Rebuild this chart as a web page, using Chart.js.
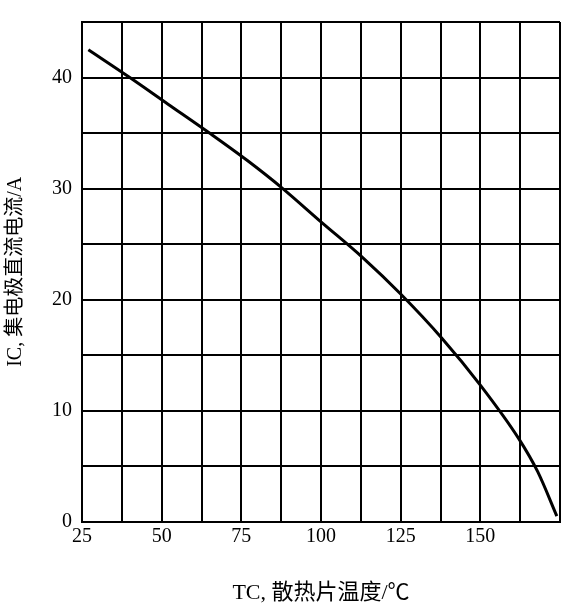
<!DOCTYPE html>
<html>
<head>
<meta charset="utf-8">
<script src="https://cdn.jsdelivr.net/npm/chart.js@4/dist/chart.umd.min.js"></script>
<style>
  html, body { margin: 0; padding: 0; background: #fff; }
  #wrap { width: 576px; height: 614px; }
</style>
</head>
<body>
<div id="wrap"><canvas id="c" width="576" height="614"></canvas></div>
<script>
// Tc (°C) vs Ic (A)
const tempC = [27, 40, 52, 65, 77, 88, 100, 113, 125, 138, 150, 162, 168, 174];
const currentA = [42.5, 40, 37.6, 35, 32.5, 30, 27, 23.8, 20.5, 16.5, 12.3, 7.5, 4.5, 0.5];
const xLabels = [25, 50, 75, 100, 125, 150];
const yLabels = [0, 10, 20, 30, 40];

const serif = "'Liberation Serif', 'Noto Sans CJK SC', serif";

new Chart(document.getElementById('c'), {
    type: 'line',
    data: {
        datasets: [{
            data: tempC.map((t, i) => ({ x: t, y: currentA[i] })),
            borderColor: '#000',
            borderWidth: 3,
            pointRadius: 0,
            tension: 0.4,
            cubicInterpolationMode: 'monotone'
        }]
    },
    options: {
        responsive: false,
        animation: false,
        layout: { padding: { top: 18, right: 16, left: 0, bottom: 4 } },
        plugins: { legend: { display: false }, tooltip: { enabled: false } },
        scales: {
            x: {
                type: 'linear',
                min: 25,
                max: 175,
                ticks: {
                    stepSize: 12.5,
                    color: '#000',
                    font: { family: serif, size: 20 },
                    maxRotation: 0,
                    autoSkip: false,
                    callback: v => xLabels.includes(v) ? v : ''
                },
                grid: { color: '#000', lineWidth: 2, drawTicks: false },
                border: { color: '#000', width: 2 },
                title: {
                    display: true,
                    text: 'TC, 散热片温度/℃',
                    color: '#000',
                    font: { family: serif, size: 22 },
                    padding: { top: 28 }
                }
            },
            y: {
                min: 0,
                max: 45,
                ticks: {
                    stepSize: 5,
                    color: '#000',
                    font: { family: serif, size: 20 },
                    padding: 10,
                    autoSkip: false,
                    callback: v => yLabels.includes(v) ? v : ''
                },
                grid: { color: '#000', lineWidth: 2, drawTicks: false },
                border: { color: '#000', width: 2 },
                title: {
                    display: true,
                    text: 'IC, 集电极直流电流/A',
                    color: '#000',
                    font: { family: serif, size: 20 },
                    padding: { bottom: 14 }
                }
            }
        }
    }
});
</script>
</body>
</html>
